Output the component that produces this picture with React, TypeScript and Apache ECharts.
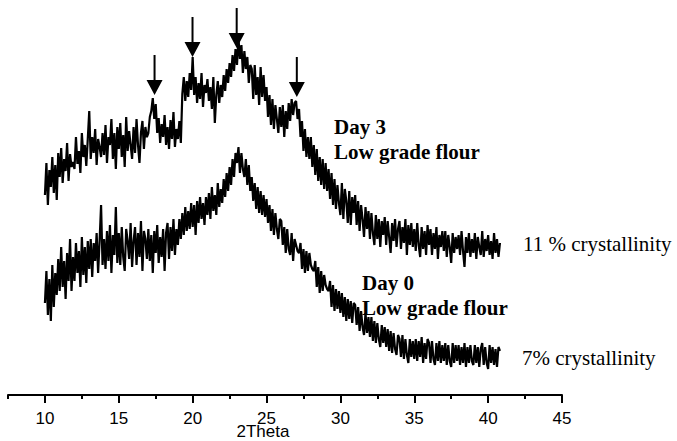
import { useEffect, useRef } from "react";
import * as echarts from "echarts";

// 2θ scan grid (degrees)
const scanStart = 10;
const scanStep = 0.1;

// Day 3, low grade flour (intensity, a.u., stacked above Day 0)
const day3Counts = [
  200, 232, 190, 225, 208, 238, 202, 230, 195, 242,
  218, 247, 212, 236, 224, 252, 214, 241, 228, 233,
  226, 258, 231, 244, 222, 262, 238, 250, 229, 256,
  284, 236, 258, 242, 266, 230, 256, 248, 238, 262,
  240, 270, 232, 258, 250, 276, 236, 262, 226, 268,
  246, 272, 238, 260, 228, 278, 244, 264, 250, 236,
  268, 242, 276, 250, 232, 262, 274, 246, 268, 258,
  262, 278, 284, 297, 276, 291, 262, 277, 252, 271,
  258, 280, 250, 268, 246, 275, 256, 283, 248, 266,
  256, 274, 252, 301, 318, 294, 314, 298, 322, 305,
  338, 300, 318, 292, 312, 296, 322, 288, 310, 302,
  316, 294, 308, 286, 318, 272, 300, 314, 292, 310,
  298, 320, 304, 326, 312, 332, 318, 340, 324, 346,
  330, 357, 336, 350, 322, 344, 326, 338, 312, 330,
  326, 296, 330, 300, 318, 290, 328, 298, 320, 294,
  308, 278, 300, 270, 296, 266, 290, 276, 262, 288,
  268, 290, 258, 284, 266, 292, 274, 296, 280, 292,
  294, 276, 286, 258, 274, 244, 266, 238, 258, 236,
  258, 228, 250, 220, 246, 214, 238, 210, 236, 206,
  232, 204, 226, 196, 222, 190, 216, 186, 210, 192,
  180, 212, 176, 206, 194, 172, 204, 170, 198, 182,
  200, 170, 194, 164, 190, 176, 158, 188, 166, 184,
  156, 182, 162, 150, 180, 156, 176, 148, 174, 160,
  178, 150, 174, 158, 142, 172, 154, 176, 148, 166,
  174, 146, 168, 152, 176, 140, 170, 150, 172, 148,
  166, 144, 172, 150, 138, 168, 146, 164, 140, 170,
  150, 166, 140, 162, 146, 168, 136, 160, 148, 164,
  144, 164, 138, 160, 148, 132, 162, 142, 158, 146,
  160, 140, 164, 144, 128, 158, 142, 162, 138, 156,
  142, 162, 136, 158, 148, 140, 164, 138, 156, 144,
  160, 140, 154, 136, 162, 142, 156, 138, 152,
];

// Day 0, low grade flour (intensity, a.u.)
const day0Counts = [
  92, 124, 80, 116, 74, 130, 88, 122, 100, 136,
  104, 148, 108, 134, 96, 142, 114, 156, 104, 138,
  114, 152, 122, 144, 108, 158, 120, 148, 112, 154,
  126, 156, 118, 152, 134, 162, 122, 154, 190, 130,
  156, 126, 164, 134, 170, 122, 160, 140, 188, 132,
  162, 130, 168, 138, 124, 166, 154, 136, 172, 128,
  154, 168, 130, 162, 138, 174, 124, 164, 156, 136,
  166, 134, 160, 122, 164, 142, 170, 132, 158, 138,
  166, 124, 162, 172, 136, 168, 144, 176, 140, 166,
  150, 176, 156, 182, 160, 188, 164, 184, 166, 192,
  168, 190, 160, 194, 172, 198, 176, 192, 170, 198,
  180, 202, 176, 208, 184, 200, 180, 212, 188, 206,
  192, 216, 198, 222, 204, 228, 210, 236, 218, 242,
  232, 248, 222, 242, 226, 218, 236, 210, 230, 204,
  218, 194, 212, 186, 208, 182, 204, 180, 200, 178,
  196, 172, 190, 164, 186, 160, 182, 166, 156, 176,
  174, 150, 168, 142, 166, 146, 140, 162, 134, 156,
  150, 144, 142, 152, 126, 146, 122, 144, 124, 142,
  130, 126, 124, 134, 108, 128, 102, 124, 104, 120,
  110, 106, 104, 114, 88, 110, 84, 106, 86, 104,
  82, 102, 78, 98, 74, 96, 76, 94, 72, 92,
  90, 70, 88, 64, 84, 68, 60, 82, 62, 78,
  58, 78, 54, 74, 52, 72, 56, 48, 70, 52,
  68, 48, 66, 44, 64, 42, 62, 46, 40, 60,
  56, 38, 60, 36, 56, 40, 32, 56, 38, 54,
  36, 56, 34, 54, 38, 58, 32, 52, 36, 56,
  52, 32, 54, 36, 30, 52, 34, 54, 32, 50,
  34, 52, 30, 50, 34, 28, 52, 32, 50, 34,
  50, 30, 48, 32, 52, 28, 48, 32, 50, 34,
  30, 50, 32, 48, 28, 46, 52, 30, 48, 32,
  26, 50, 32, 48, 30, 46, 28, 48, 44,
];

// crystalline reflections marked with arrows on the Day 3 pattern
const peakTheta = [17.42, 19.99, 22.98, 27.05];
const peakArrowTip = [300, 338, 347, 298];

const majorTicks = [10, 15, 20, 25, 30, 35, 40, 45];
const minorTicks = [7.5, 12.5, 17.5, 22.5, 27.5, 32.5, 37.5, 42.5];

const toPairs = (counts: number[]) =>
  counts.map((c, i) => [Number((scanStart + i * scanStep).toFixed(2)), c]);

const arrowPath = "path://M7,0 L9,0 L9,25 L16,25 L8,40 L0,25 L7,25 Z";

export default function App() {
  const ref = useRef<HTMLDivElement>(null);

  useEffect(() => {
    if (!ref.current) return;
    const chart = echarts.init(ref.current, null, { renderer: "svg" });
    const serif = "'Liberation Serif', 'Times New Roman', serif";
    const sans = "'Liberation Sans', Arial, sans-serif";
    const note = (text: string, x: number, y: number, bold: boolean) => ({
      type: "text",
      x,
      y,
      style: {
        text,
        font: `${bold ? "bold " : ""}21px ${serif}`,
        fill: "#000",
        textAlign: "left",
        textVerticalAlign: "middle",
        align: "left",
        verticalAlign: "middle",
      },
    });

    chart.setOption({
      animation: false,
      backgroundColor: "#fff",
      grid: { left: 8, right: 115, top: 0, bottom: 46, containLabel: false },
      xAxis: [
        {
          type: "value",
          min: 7.5,
          max: 45,
          axisLine: { show: true, lineStyle: { color: "#000", width: 2 } },
          axisTick: {
            show: true,
            customValues: minorTicks,
            length: 4,
            lineStyle: { color: "#000", width: 2 },
          },
          axisLabel: {
            customValues: majorTicks,
            color: "#000",
            fontFamily: sans,
            fontSize: 17,
            margin: 15,
          },
          splitLine: { show: false },
        },
        {
          type: "value",
          min: 7.5,
          max: 45,
          position: "bottom",
          axisLine: { show: false },
          axisTick: {
            show: true,
            customValues: majorTicks,
            length: 8,
            lineStyle: { color: "#000", width: 2 },
          },
          axisLabel: { show: false },
          splitLine: { show: false },
        },
      ],
      yAxis: { type: "value", min: 0, max: 395, show: false },
      series: [
        {
          name: "Day 3",
          type: "line",
          xAxisIndex: 0,
          data: toPairs(day3Counts),
          showSymbol: false,
          lineStyle: { color: "#000", width: 2.2 },
          markPoint: {
            symbol: arrowPath,
            symbolSize: [16, 40],
            symbolOffset: [0, "-50%"],
            itemStyle: { color: "#000" },
            label: { show: false },
            data: peakTheta.map((t, i) => ({ coord: [t, peakArrowTip[i]] })),
          },
        },
        {
          name: "Day 0",
          type: "line",
          xAxisIndex: 0,
          data: toPairs(day0Counts),
          showSymbol: false,
          lineStyle: { color: "#000", width: 2.2 },
        },
      ],
      graphic: [
        note("Day 3", 334, 127, true),
        note("Low grade flour", 334, 152, true),
        note("Day 0", 362, 283, true),
        note("Low grade flour", 362, 308, true),
        note("11 % crystallinity", 523, 244, false),
        note("7% crystallinity", 522, 358, false),
        {
          type: "text",
          x: 263,
          y: 431,
          style: {
            text: "2Theta",
            font: `17px ${sans}`,
            fill: "#000",
            textAlign: "center",
            textVerticalAlign: "middle",
            align: "center",
            verticalAlign: "middle",
          },
        },
      ],
    });

    return () => chart.dispose();
  }, []);

  return (
    <div
      ref={ref}
      style={{ position: "fixed", left: 0, top: 0, width: 677, height: 441 }}
    />
  );
}
